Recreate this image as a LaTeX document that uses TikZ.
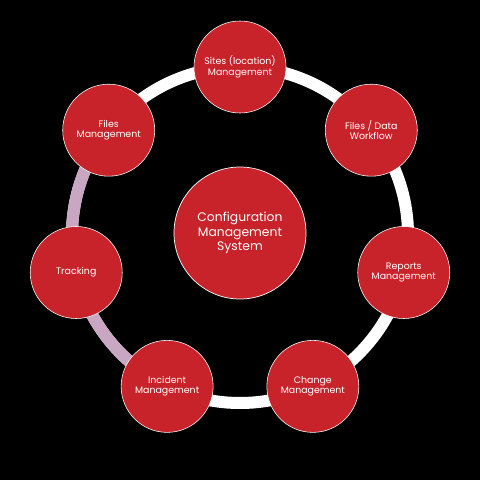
\documentclass[tikz,border=0pt]{standalone}
\usepackage{fontspec}
\setmainfont{Poppins}
\usepackage{tikz}
\usetikzlibrary{backgrounds}
\definecolor{cmred}{HTML}{C8232A}
\definecolor{mauve}{HTML}{C9A7C2}
\tikzset{
  hub/.style={circle,draw=white,line width=0.5pt,fill=cmred,minimum size=3.3cm,inner sep=0pt,
              align=center,text=white,font=\fontsize{8.8}{10.2}\selectfont},
  mod/.style={circle,draw=white,line width=0.4pt,fill=cmred,minimum size=2.3cm,inner sep=0pt,
              align=center,text=white,font=\fontsize{6.7}{7.4}\selectfont},
  ring/.style={line width=0.3cm,draw=#1},
  ring/.default=white,
}

\begin{document}
\begin{tikzpicture}
  \fill[black] (-6,-6.125) rectangle (6,5.875);
  \useasboundingbox (-6,-6.125) rectangle (6,5.875);
  % the ring, light part on the left
  \draw[ring] (0,0) circle (4.2);
  \draw[ring=mauve] (141.4:4.2) arc (141.4:244.3:4.2);
  \node[hub] (cms) at (0,0.05) {Configuration\\Management\\System};
  \node[mod] (sites)    at (90:4.2)    {Sites (location)\\Management};
  \node[mod] (data)     at (38.6:4.2)  {Files / Data\\Workflow};
  \node[mod] (reports)  at (-12.9:4.2) {Reports\\Management};
  \node[mod] (change)   at (-64.3:4.2) {Change\\Management};
  \node[mod] (incident) at (244.3:4.2) {Incident\\Management};
  \node[mod] (tracking) at (192.9:4.2) {Tracking};
  \node[mod] (files)    at (141.4:4.2) {Files\\Management};
\end{tikzpicture}
\end{document}
